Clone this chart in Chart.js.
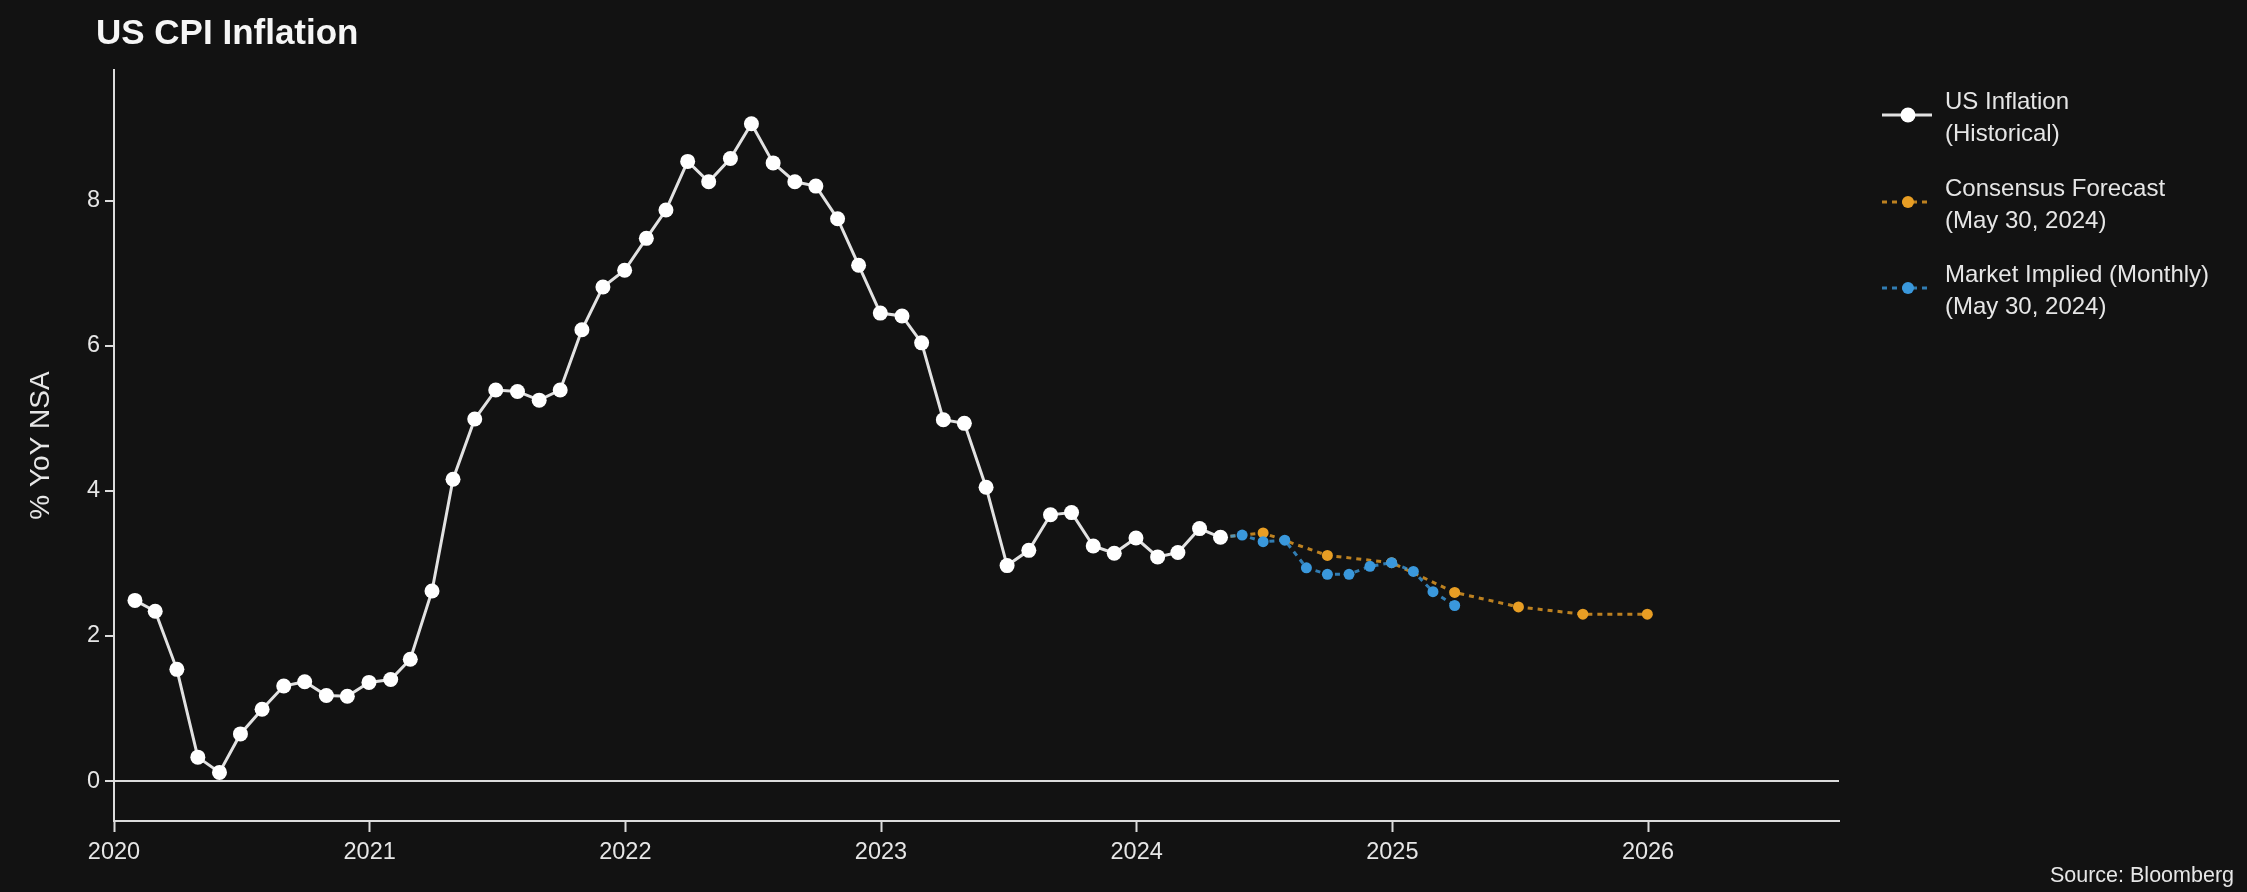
<!DOCTYPE html>
<html>
<head>
<meta charset="utf-8">
<script src="https://cdn.jsdelivr.net/npm/chart.js@4.4.1/dist/chart.umd.min.js"></script>
<style>
  html, body { margin: 0; padding: 0; background: #121212; overflow: hidden; }
  #wrap { position: relative; width: 2247px; height: 892px; }
  canvas { display: block; }
</style>
</head>
<body>
<div id="wrap"><canvas id="c" width="2247" height="892"></canvas></div>
<script>
// ---------------- DATA ----------------
const TITLE = 'US CPI Inflation';
const SOURCE = 'Source: Bloomberg';
const Y_TITLE = '% YoY NSA';
const X_TICKS = [2020, 2021, 2022, 2023, 2024, 2025, 2026];
const Y_TICKS = [0, 2, 4, 6, 8];

const histMonths = [
  '2020-01','2020-02','2020-03','2020-04','2020-05','2020-06','2020-07','2020-08','2020-09','2020-10','2020-11','2020-12',
  '2021-01','2021-02','2021-03','2021-04','2021-05','2021-06','2021-07','2021-08','2021-09','2021-10','2021-11','2021-12',
  '2022-01','2022-02','2022-03','2022-04','2022-05','2022-06','2022-07','2022-08','2022-09','2022-10','2022-11','2022-12',
  '2023-01','2023-02','2023-03','2023-04','2023-05','2023-06','2023-07','2023-08','2023-09','2023-10','2023-11','2023-12',
  '2024-01','2024-02','2024-03','2024-04'
];
const histValues = [
  2.49, 2.34, 1.54, 0.33, 0.12, 0.65, 0.99, 1.31, 1.37, 1.18, 1.17, 1.36,
  1.40, 1.68, 2.62, 4.16, 4.99, 5.39, 5.37, 5.25, 5.39, 6.22, 6.81, 7.04,
  7.48, 7.87, 8.54, 8.26, 8.58, 9.06, 8.52, 8.26, 8.20, 7.75, 7.11, 6.45,
  6.41, 6.04, 4.98, 4.93, 4.05, 2.97, 3.18, 3.67, 3.70, 3.24, 3.14, 3.35,
  3.09, 3.15, 3.48, 3.36
];

const consensusMonths = ['2024-04','2024-06','2024-09','2024-12','2025-03','2025-06','2025-09','2025-12'];
const consensusValues = [3.36, 3.42, 3.11, 3.01, 2.60, 2.40, 2.30, 2.30];

const marketMonths = ['2024-04','2024-05','2024-06','2024-07','2024-08','2024-09','2024-10','2024-11','2024-12','2025-01','2025-02','2025-03'];
const marketValues = [3.36, 3.39, 3.30, 3.32, 2.94, 2.85, 2.85, 2.96, 3.01, 2.89, 2.61, 2.42];

const histLabel = ['US Inflation', '(Historical)'];
const consensusLabel = ['Consensus Forecast', '(May 30, 2024)'];
const marketLabel = ['Market Implied (Monthly)', '(May 30, 2024)'];

// ---------------- HELPERS ----------------
function monthEndYear(m) {
  const [y, mo] = m.split('-').map(Number);
  const start = Date.UTC(y, 0, 1), end = Date.UTC(y + 1, 0, 1);
  const d = Date.UTC(y, mo, 0);
  return y + (d - start) / (end - start);
}
function toPoints(months, values) {
  return months.map((m, i) => ({ x: monthEndYear(m), y: values[i] }));
}

const FONT = "'Liberation Sans', Arial, sans-serif";
const TEXT = '#e6e6e6';
const AXIS = '#dcdcdc';
const WHITE = '#ffffff';
const ORANGE = 'rgb(232,158,36)';
const ORANGE_LINE = 'rgba(232,158,36,0.8)';
const BLUE = 'rgb(58,152,220)';
const BLUE_LINE = 'rgba(58,152,220,0.8)';

// ---------------- PLUGINS ----------------
const bgPlugin = {
  id: 'bg',
  beforeDraw(chart) {
    const c = chart.ctx;
    c.save();
    c.fillStyle = '#121212';
    c.fillRect(0, 0, chart.width, chart.height);
    c.restore();
  }
};

const textPlugin = {
  id: 'texts',
  afterDraw(chart) {
    const c = chart.ctx;
    c.save();
    // title
    c.fillStyle = '#f6f6f6';
    c.font = 'bold 35px ' + FONT;
    c.textAlign = 'left';
    c.textBaseline = 'middle';
    c.fillText(TITLE, 96, 34);
    // source
    c.fillStyle = TEXT;
    c.font = '21.5px ' + FONT;
    c.textAlign = 'right';
    c.fillText(SOURCE, 2234, 876);

    // legend
    const entries = chart.data.datasets.map((ds, i) => ({ ds, i }))
      .sort((a, b) => a.ds.legendRank - b.ds.legendRank);
    const symY = [115, 202, 288];
    entries.forEach((e, k) => {
      const ds = e.ds;
      const y = symY[k];
      c.save();
      c.strokeStyle = ds.legendLine;
      c.lineWidth = 3;
      c.setLineDash(ds.borderDash || []);
      c.beginPath();
      c.moveTo(1882, y);
      c.lineTo(1932, y);
      c.stroke();
      c.setLineDash([]);
      c.fillStyle = ds.pointBackgroundColor;
      c.beginPath();
      c.arc(1908, y, ds.legendRadius, 0, Math.PI * 2);
      c.fill();
      c.restore();
      c.fillStyle = TEXT;
      c.font = '24px ' + FONT;
      c.textAlign = 'left';
      c.textBaseline = 'middle';
      ds.label.forEach((line, j) => {
        c.fillText(line, 1945, y - 13 + j * 32);
      });
    });
    c.restore();
  }
};

// ---------------- CHART ----------------
const ctx = document.getElementById('c').getContext('2d');
new Chart(ctx, {
  type: 'line',
  data: {
    datasets: [
      {
        label: histLabel,
        data: toPoints(histMonths, histValues),
        borderColor: '#e2e2e2',
        borderWidth: 3,
        pointRadius: 7.5,
        pointBackgroundColor: WHITE,
        pointBorderColor: WHITE,
        pointBorderWidth: 0,
        tension: 0,
        order: 0,
        legendRank: 0,
        legendLine: '#e2e2e2',
        legendRadius: 7.5
      },
      {
        label: marketLabel,
        data: toPoints(marketMonths, marketValues),
        borderColor: BLUE_LINE,
        borderWidth: 3,
        borderDash: [5, 5],
        pointRadius: (c) => (c.dataIndex === 0 ? 0 : 5.5),
        pointBackgroundColor: BLUE,
        pointBorderColor: BLUE,
        pointBorderWidth: 0,
        tension: 0,
        order: 1,
        legendRank: 2,
        legendLine: BLUE_LINE,
        legendRadius: 6
      },
      {
        label: consensusLabel,
        data: toPoints(consensusMonths, consensusValues),
        borderColor: ORANGE_LINE,
        borderWidth: 3,
        borderDash: [5, 5],
        pointRadius: (c) => (c.dataIndex === 0 ? 0 : 5.5),
        pointBackgroundColor: ORANGE,
        pointBorderColor: ORANGE,
        pointBorderWidth: 0,
        tension: 0,
        order: 2,
        legendRank: 1,
        legendLine: ORANGE_LINE,
        legendRadius: 6
      }
    ]
  },
  options: {
    responsive: false,
    animation: false,
    devicePixelRatio: 1,
    layout: { padding: { left: 0, right: 408, top: 70, bottom: 0 } },
    plugins: {
      legend: { display: false },
      tooltip: { enabled: false },
      title: { display: false }
    },
    scales: {
      x: {
        type: 'linear',
        min: 2020,
        max: 2026.747,
        afterFit: (s) => { s.height = 71; },
        afterBuildTicks: (s) => { s.ticks = X_TICKS.map(v => ({ value: v })); },
        ticks: {
          callback: (v) => String(v),
          color: TEXT,
          font: { family: FONT, size: 23.5 },
          padding: 6,
          maxRotation: 0,
          autoSkip: false
        },
        grid: {
          drawOnChartArea: false,
          drawTicks: true,
          tickLength: 11,
          tickColor: AXIS,
          tickWidth: 2
        },
        border: { display: true, color: AXIS, width: 2 }
      },
      y: {
        type: 'linear',
        min: -0.55,
        max: 9.8,
        afterFit: (s) => { s.width = 114; },
        afterBuildTicks: (s) => { s.ticks = Y_TICKS.map(v => ({ value: v })); },
        ticks: {
          callback: (v) => String(v),
          color: TEXT,
          font: { family: FONT, size: 23.5 },
          padding: 5
        },
        grid: {
          drawOnChartArea: true,
          color: (c) => (c.tick && c.tick.value === 0 ? AXIS : 'rgba(0,0,0,0)'),
          lineWidth: 2,
          drawTicks: true,
          tickLength: 9,
          tickColor: AXIS,
          tickWidth: 2
        },
        border: { display: true, color: AXIS, width: 2 },
        title: {
          display: true,
          text: Y_TITLE,
          color: TEXT,
          font: { family: FONT, size: 28 },
          padding: { top: 24, bottom: 0 }
        }
      }
    }
  },
  plugins: [bgPlugin, textPlugin]
});
</script>
</body>
</html>
